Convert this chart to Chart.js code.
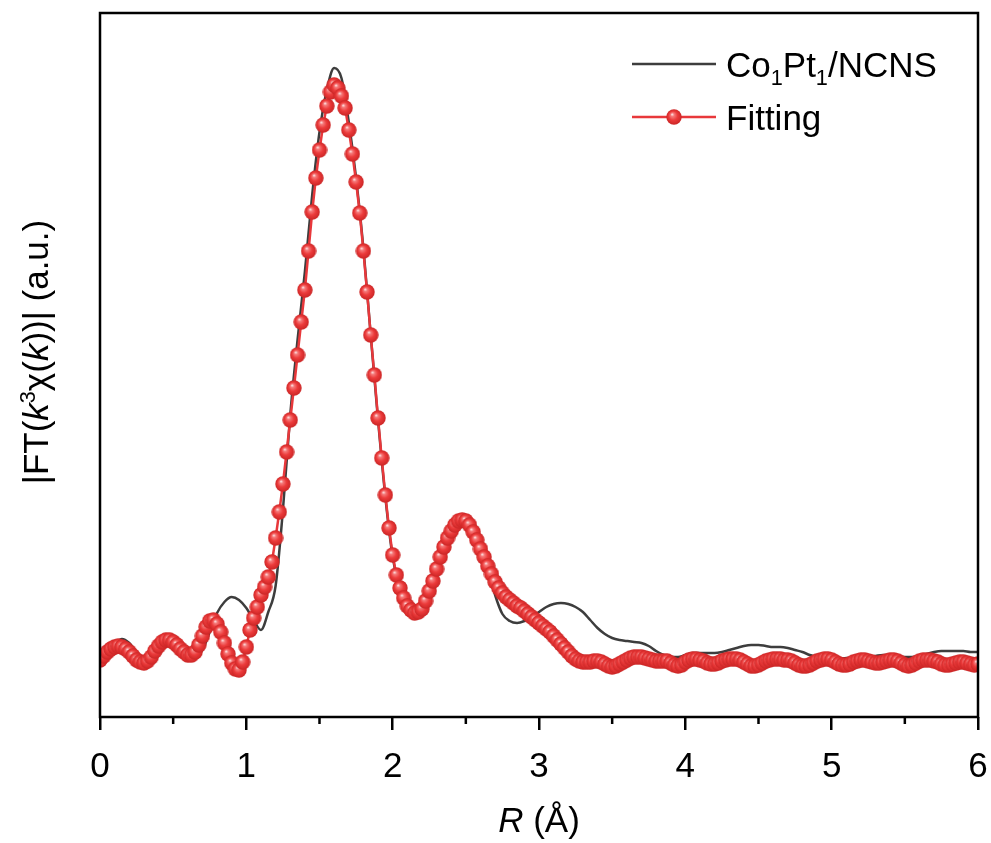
<!DOCTYPE html>
<html>
<head>
<meta charset="utf-8">
<title>FT-EXAFS fitting</title>
<script src="https://cdn.jsdelivr.net/npm/chart.js@4.4.1/dist/chart.umd.min.js"></script>
<style>
  html, body { margin: 0; padding: 0; background: #fff; }
  #wrap { width: 991px; height: 843px; }
</style>
</head>
<body>
<div id="wrap"><canvas id="ftChart" width="991" height="843"></canvas></div>
<script>
// axis
const rTicks = [0, 1, 2, 3, 4, 5, 6];
const rMinor = [0.5, 1.5, 2.5, 3.5, 4.5, 5.5];
const seriesNames = ['Co1Pt1/NCNS', 'Fitting'];

// measured |FT| (a.u.), sampled every 0.05 Å from 0 to 6
const expStep = 0.05;
const expVals = [
  0.57, 0.65, 0.73, 0.78, 0.74, 0.65, 0.59, 0.62, 0.70, 0.77,
  0.76, 0.70, 0.63, 0.61, 0.67, 0.85, 1.04, 1.15, 1.20, 1.17,
  1.09, 0.97, 0.87, 1.05, 1.31, 2.07, 3.02, 3.77, 4.45, 5.22,
  5.85, 6.27, 6.49, 6.39, 5.95, 5.39, 4.69, 3.82, 2.97, 2.20,
  1.60, 1.27, 1.10, 1.04, 1.08, 1.26, 1.49, 1.70, 1.87, 1.96,
  1.97, 1.87, 1.69, 1.49, 1.22, 1.03, 0.96, 0.94, 0.96, 1.00,
  1.05, 1.10, 1.13, 1.14, 1.13, 1.10, 1.05, 0.97, 0.89, 0.83,
  0.79, 0.77, 0.76, 0.75, 0.74, 0.71, 0.66, 0.62, 0.60, 0.60,
  0.62, 0.64, 0.64, 0.64, 0.64, 0.65, 0.67, 0.69, 0.71, 0.72,
  0.72, 0.71, 0.70, 0.70, 0.69, 0.67, 0.65, 0.62, 0.60, 0.58,
  0.58, 0.58, 0.59, 0.59, 0.59, 0.60, 0.61, 0.62, 0.62, 0.61,
  0.60, 0.60, 0.61, 0.63, 0.65, 0.66, 0.66, 0.66, 0.66, 0.65,
  0.65
];

// fitted |FT| (a.u.), sampled every 0.025 Å from 0 to 6
const fitStep = 0.025;
const fitVals = [
  0.57, 0.61, 0.65, 0.68, 0.70, 0.71, 0.70, 0.68, 0.65, 0.61,
  0.57, 0.55, 0.54, 0.56, 0.60, 0.66, 0.71, 0.75, 0.77, 0.77,
  0.75, 0.72, 0.68, 0.65, 0.62, 0.62, 0.65, 0.72, 0.81, 0.90,
  0.96, 0.97, 0.93, 0.85, 0.74, 0.63, 0.54, 0.48, 0.47, 0.55,
  0.70, 0.87, 0.99, 1.10, 1.22, 1.30, 1.40, 1.55, 1.79, 2.05,
  2.33, 2.65, 2.97, 3.29, 3.62, 3.95, 4.27, 4.66, 5.05, 5.39,
  5.67, 5.92, 6.11, 6.25, 6.32, 6.29, 6.21, 6.09, 5.87, 5.63,
  5.35, 5.04, 4.66, 4.25, 3.82, 3.42, 2.99, 2.59, 2.22, 1.89,
  1.62, 1.42, 1.29, 1.19, 1.11, 1.07, 1.04, 1.05, 1.08, 1.16,
  1.26, 1.36, 1.48, 1.60, 1.70, 1.79, 1.86, 1.92, 1.96, 1.97,
  1.96, 1.92, 1.85, 1.77, 1.68, 1.60, 1.51, 1.43, 1.35, 1.29,
  1.24, 1.20, 1.17, 1.14, 1.11, 1.09, 1.06, 1.03, 1.00, 0.97,
  0.94, 0.91, 0.88, 0.85, 0.81, 0.77, 0.73, 0.69, 0.65, 0.61,
  0.58, 0.56, 0.55, 0.55, 0.55, 0.56, 0.56, 0.55, 0.53, 0.51,
  0.50, 0.51, 0.53, 0.55, 0.57, 0.59, 0.60, 0.60, 0.60, 0.59,
  0.58, 0.57, 0.56, 0.56, 0.56, 0.56, 0.54, 0.52, 0.51, 0.52,
  0.55, 0.57, 0.58, 0.58, 0.57, 0.56, 0.54, 0.53, 0.53, 0.54,
  0.56, 0.57, 0.58, 0.58, 0.58, 0.57, 0.55, 0.53, 0.51, 0.51,
  0.52, 0.54, 0.56, 0.57, 0.58, 0.58, 0.58, 0.57, 0.57, 0.56,
  0.54, 0.52, 0.51, 0.51, 0.52, 0.54, 0.56, 0.57, 0.58, 0.58,
  0.57, 0.55, 0.53, 0.52, 0.52, 0.53, 0.55, 0.56, 0.57, 0.57,
  0.56, 0.55, 0.54, 0.54, 0.55, 0.56, 0.57, 0.57, 0.56, 0.54,
  0.52, 0.51, 0.52, 0.54, 0.56, 0.57, 0.57, 0.57, 0.56, 0.55,
  0.53, 0.52, 0.52, 0.53, 0.54, 0.55, 0.55, 0.54, 0.53, 0.52,
  0.53
];

const GRAY = '#3d3d3d';
const RED = '#e8383b';
const FONT = '"Liberation Sans", Arial, sans-serif';

const expData = expVals.map((v, i) => ({ x: +(i * expStep).toFixed(3), y: v }));
const fitData = fitVals.map((v, i) => ({ x: +(i * fitStep).toFixed(3), y: v }));

// shaded red ball used for the fit markers
function makeBall(size) {
    const c = document.createElement('canvas');
    c.width = size; c.height = size;
    const g = c.getContext('2d');
    const r = size / 2;
    const grad = g.createRadialGradient(r * 0.75, r * 0.65, 0, r, r, r);
    grad.addColorStop(0, '#fff2f2');
    grad.addColorStop(0.22, '#f57a7a');
    grad.addColorStop(0.55, '#ec3b3b');
    grad.addColorStop(1, '#c92424');
    g.fillStyle = grad;
    g.beginPath();
    g.arc(r, r, r - 0.3, 0, Math.PI * 2);
    g.fill();
    return c;
}
const ball = makeBall(16);

// text with italic / sub / sup pieces
function richWidth(ctx, parts, size) {
    let w = 0;
    parts.forEach(p => {
        const s = p.sub || p.sup ? size * 0.62 : size;
        ctx.font = (p.it ? 'italic ' : '') + s + 'px ' + FONT;
        w += ctx.measureText(p.t).width;
    });
    return w;
}
function drawRich(ctx, parts, x, y, size) {
    parts.forEach(p => {
        const s = p.sub || p.sup ? size * 0.62 : size;
        ctx.font = (p.it ? 'italic ' : '') + s + 'px ' + FONT;
        let dy = 0;
        if (p.sub) dy = size * 0.22;
        if (p.sup) dy = -size * 0.38;
        ctx.fillText(p.t, x, y + dy);
        x += ctx.measureText(p.t).width;
    });
}

const decor = {
    id: 'decor',
    afterDraw(chart) {
        const ctx = chart.ctx;
        const a = chart.chartArea;
        const xs = chart.scales.x;
        ctx.save();
        ctx.strokeStyle = '#000';
        ctx.lineWidth = 2.5;
        ctx.strokeRect(a.left, a.top, a.right - a.left, a.bottom - a.top);

        // minor ticks
        ctx.beginPath();
        rMinor.forEach(v => {
            const px = xs.getPixelForValue(v);
            ctx.moveTo(px, a.bottom);
            ctx.lineTo(px, a.bottom + 7);
        });
        ctx.stroke();

        ctx.fillStyle = '#000';
        ctx.textBaseline = 'alphabetic';

        // x title
        const xt = [{ t: 'R', it: true }, { t: ' (Å)' }];
        const xw = richWidth(ctx, xt, 35);
        drawRich(ctx, xt, (a.left + a.right) / 2 - xw / 2, 832, 35);

        // y title
        const yt = [{ t: '|FT(' }, { t: 'k', it: true }, { t: '3', sup: true }, { t: 'χ(' },
                    { t: 'k', it: true }, { t: '))| (a.u.)' }];
        const yw = richWidth(ctx, yt, 35);
        ctx.save();
        ctx.translate(48, 352);
        ctx.rotate(-Math.PI / 2);
        drawRich(ctx, yt, -yw / 2, 0, 35);
        ctx.restore();

        // legend
        ctx.lineWidth = 2.5;
        ctx.strokeStyle = GRAY;
        ctx.beginPath(); ctx.moveTo(632, 64); ctx.lineTo(716, 64); ctx.stroke();
        drawRich(ctx, [{ t: 'Co' }, { t: '1', sub: true }, { t: 'Pt' }, { t: '1', sub: true }, { t: '/NCNS' }], 726, 77, 35);
        ctx.strokeStyle = RED;
        ctx.beginPath(); ctx.moveTo(632, 117); ctx.lineTo(716, 117); ctx.stroke();
        ctx.drawImage(ball, 666, 109, 16, 16);
        drawRich(ctx, [{ t: 'Fitting' }], 726, 130, 35);
        ctx.restore();
    }
};

new Chart(document.getElementById('ftChart').getContext('2d'), {
    type: 'line',
    data: {
        datasets: [
            {
                label: seriesNames[1],
                data: fitData,
                borderColor: RED,
                borderWidth: 2.5,
                pointStyle: ball,
                pointRadius: 8,
                tension: 0,
                clip: 0,
                order: 0
            },
            {
                label: seriesNames[0],
                data: expData,
                borderColor: GRAY,
                borderWidth: 2.5,
                pointRadius: 0,
                cubicInterpolationMode: 'monotone',
                clip: 0,
                order: 1
            }
        ]
    },
    options: {
        responsive: false,
        animation: false,
        layout: { padding: { top: 13, right: 13, left: 0, bottom: 0 } },
        scales: {
            x: {
                type: 'linear',
                min: 0,
                max: 6,
                border: { display: false },
                grid: { drawOnChartArea: false, drawTicks: true, tickLength: 13, tickColor: '#000', lineWidth: 2.5 },
                ticks: {
                    stepSize: 1,
                    padding: 16,
                    color: '#000',
                    font: { family: FONT, size: 35 },
                    maxRotation: 0,
                    callback: v => rTicks.includes(v) ? String(v) : ''
                },
                afterFit: s => { s.height = 126; s.paddingLeft = 0; s.paddingRight = 0; }
            },
            y: {
                min: 0,
                max: 7.04,
                border: { display: false },
                grid: { display: false },
                ticks: { display: false },
                afterFit: s => { s.width = 100; }
            }
        },
        plugins: {
            legend: { display: false },
            tooltip: { enabled: false }
        }
    },
    plugins: [decor]
});
</script>
</body>
</html>
